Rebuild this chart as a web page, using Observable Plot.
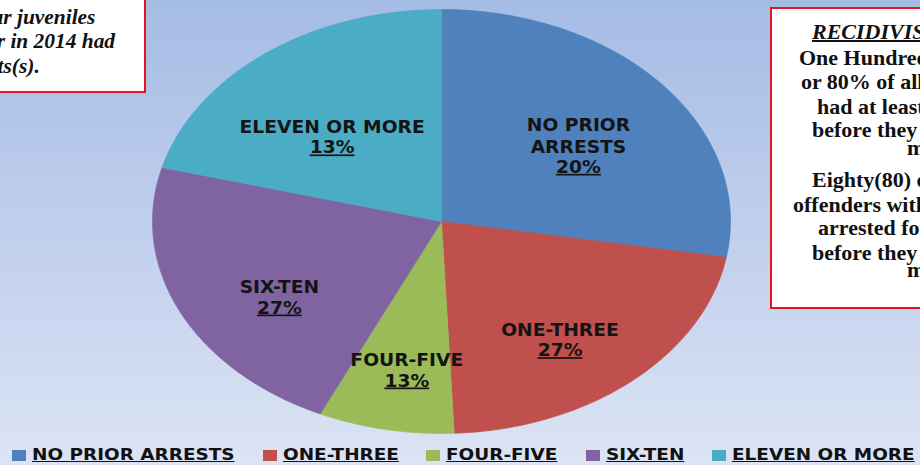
<!DOCTYPE html>
<html>
<head>
<meta charset="utf-8">
<script src="https://cdn.jsdelivr.net/npm/d3@7"></script>
<script src="https://cdn.jsdelivr.net/npm/@observablehq/plot@0.6"></script>
<style>
  html, body { margin: 0; padding: 0; width: 920px; height: 465px; overflow: hidden; }
  body { background: linear-gradient(to bottom, #a5bce5 0%, #c3d1ee 55%, #dce4f4 100%); font-family: "DejaVu Sans", sans-serif; }
  #wrap { position: relative; width: 920px; height: 465px; overflow: hidden; }
  #chart { position: absolute; left: 0; top: 0; }
  .box { position: absolute; background: #fff; border: 2px solid #e8141b; box-sizing: border-box; overflow: hidden;
         font-family: "Liberation Serif", "Times New Roman", serif; font-weight: bold; color: #111; }
  .box .ln { position: absolute; white-space: nowrap; line-height: 1; }
  #leftbox { left: -40px; top: -4px; width: 186px; height: 97px; }
  #leftbox .ln { font-style: italic; font-size: 20px; transform: scaleX(1.07); transform-origin: right center; }
  #rightbox { left: 770px; top: 7px; width: 200px; height: 302px; }
  #rightbox .ln { font-size: 20px; transform: scaleX(1.1); transform-origin: left center; }
  #legend { position: absolute; left: 12px; top: 445px; display: flex; align-items: center; gap: 28px;
            font-family: "DejaVu Sans", sans-serif; font-weight: bold; font-size: 16.6px; color: #111; }
  #legend .item { display: flex; align-items: center; gap: 6px; }
  #legend .sw { width: 14px; height: 11px; display: inline-block; }
  #legend .tx { display: inline-block; white-space: nowrap; line-height: 20px; }
  #legend .tx span { display: inline-block; text-decoration: underline; transform-origin: left center; }
</style>
</head>
<body>
<div id="wrap">
  <div id="chart"></div>
  <div id="leftbox" class="box"></div>
  <div id="rightbox" class="box"></div>
  <div id="legend"></div>
</div>
<script>
// ---- data ----
const categories = ["NO PRIOR ARRESTS", "ONE-THREE", "FOUR-FIVE", "SIX-TEN", "ELEVEN OR MORE"];
const sliceShares = [27.7, 21.6, 7.6, 22.2, 20.9];          // slice sizes as drawn (percent of circle)
const sliceNames = ["NO PRIOR\nARRESTS", "ONE-THREE", "FOUR-FIVE", "SIX-TEN", "ELEVEN OR MORE"];
const sliceLabelPercents = ["20%", "27%", "13%", "27%", "13%"]; // printed labels
const sliceColors = ["#4f81bd", "#c0504d", "#9bbb59", "#8064a2", "#4bacc6"];

const leftNoteLines = ["Eighty percent of our juveniles", "arrested for murder in 2014 had", "prior arrests(s)."];
const rightNoteTitle = "RECIDIVISM:";
const rightNoteLines = ["One Hundred (100)", "or 80% of all offenders", "had at least one arrest", "before they were", "murdered.",
                        "Eighty(80) of the", "offenders with prior", "arrested for murder", "before they were", "murdered."];

const textStretch = 1.1;   // the reference's lettering is horizontally stretched
const legendStretch = 1.11;

// ---- build pie geometry from the data ----
const rows = categories.map((c, i) => ({category: c, share: sliceShares[i], name: sliceNames[i], pct: sliceLabelPercents[i]}));
const arcs = d3.pie().sort(null).value(d => d.share)(rows);
const pts = [];
for (const a of arcs) {
  const n = 160;
  pts.push({category: a.data.category, x: 0, y: 0});
  for (let k = 0; k <= n; k++) {
    const t = a.startAngle + (a.endAngle - a.startAngle) * k / n;
    pts.push({category: a.data.category, x: Math.sin(t), y: Math.cos(t)});
  }
  pts.push({category: a.data.category, x: 0, y: 0});
}
const labelR = 0.62;
const labels = arcs.map(a => {
  const m = (a.startAngle + a.endAngle) / 2;
  return {...a.data, x: labelR * Math.sin(m), y: labelR * Math.cos(m)};
});

const chart = Plot.plot({
  width: 920,
  height: 437,
  margin: 0,
  style: {background: "transparent", overflow: "visible"},
  x: {domain: [-1, 1], range: [152, 730], axis: null},
  y: {domain: [-1, 1], range: [433, 9], axis: null},
  color: {domain: categories, range: sliceColors},
  marks: [
    Plot.line(pts, {x: "x", y: "y", z: "category", fill: "category", stroke: "category", strokeWidth: 0.7, curve: "linear"}),
    Plot.text(labels, {x: "x", y: "y", text: "name", lineAnchor: "bottom", dy: 16, fontSize: 17, fontWeight: "bold",
                       fontFamily: "DejaVu Sans", fill: "#141414", lineHeight: 1.3}),
    Plot.text(labels, {x: "x", y: "y", text: "pct", lineAnchor: "top", dy: 24, fontSize: 17, fontWeight: "bold",
                       fontFamily: "DejaVu Sans", fill: "#141414", ariaLabel: "pct"})
  ]
});
document.getElementById("chart").append(chart);
chart.querySelectorAll("text").forEach(t => {
  if (/%$/.test(t.textContent)) { t.setAttribute("text-decoration", "underline"); t.style.textDecoration = "underline"; }
  const b = t.getBBox();
  const cx = b.x + b.width / 2;
  const old = t.getAttribute("transform") || "";
  t.setAttribute("transform", `${old} translate(${cx},0) scale(${textStretch},1) translate(${-cx},0)`);
});

// ---- left note (clipped at page edge) ----
const leftBox = document.getElementById("leftbox");
const leftRightEdges = [133, 153, 78];   // right end of each line inside the box
const leftTops = [9, 33, 58];
leftNoteLines.forEach((t, i) => {
  const s = document.createElement("div");
  s.className = "ln"; s.textContent = t;
  s.style.right = (186 - 4 - leftRightEdges[i]) + "px";
  s.style.top = leftTops[i] + "px";
  leftBox.append(s);
});

// ---- right note ----
const rightBox = document.getElementById("rightbox");
const tt = document.createElement("div");
tt.className = "ln"; tt.textContent = rightNoteTitle;
tt.style.left = "40px"; tt.style.top = "13px"; tt.style.fontStyle = "italic"; tt.style.textDecoration = "underline";
rightBox.append(tt);
const rStarts = [27, 29, 45, 40, 135, 40, 21, 46, 40, 135];
const rTops = [39, 63, 88, 111, 129, 161, 186, 209, 234, 251];
rightNoteLines.forEach((t, i) => {
  const s = document.createElement("div");
  s.className = "ln"; s.textContent = t;
  s.style.left = rStarts[i] + "px"; s.style.top = rTops[i] + "px";
  rightBox.append(s);
});

// ---- legend ----
const legend = document.getElementById("legend");
categories.forEach((c, i) => {
  const it = document.createElement("div"); it.className = "item";
  const sw = document.createElement("span"); sw.className = "sw"; sw.style.background = sliceColors[i];
  const tx = document.createElement("span"); tx.className = "tx";
  const inner = document.createElement("span"); inner.textContent = c;
  tx.append(inner);
  it.append(sw, tx); legend.append(it);
  const w = inner.getBoundingClientRect().width;
  tx.style.width = (w * legendStretch) + "px";
  inner.style.transform = `scaleX(${legendStretch})`;
});
</script>
</body>
</html>
